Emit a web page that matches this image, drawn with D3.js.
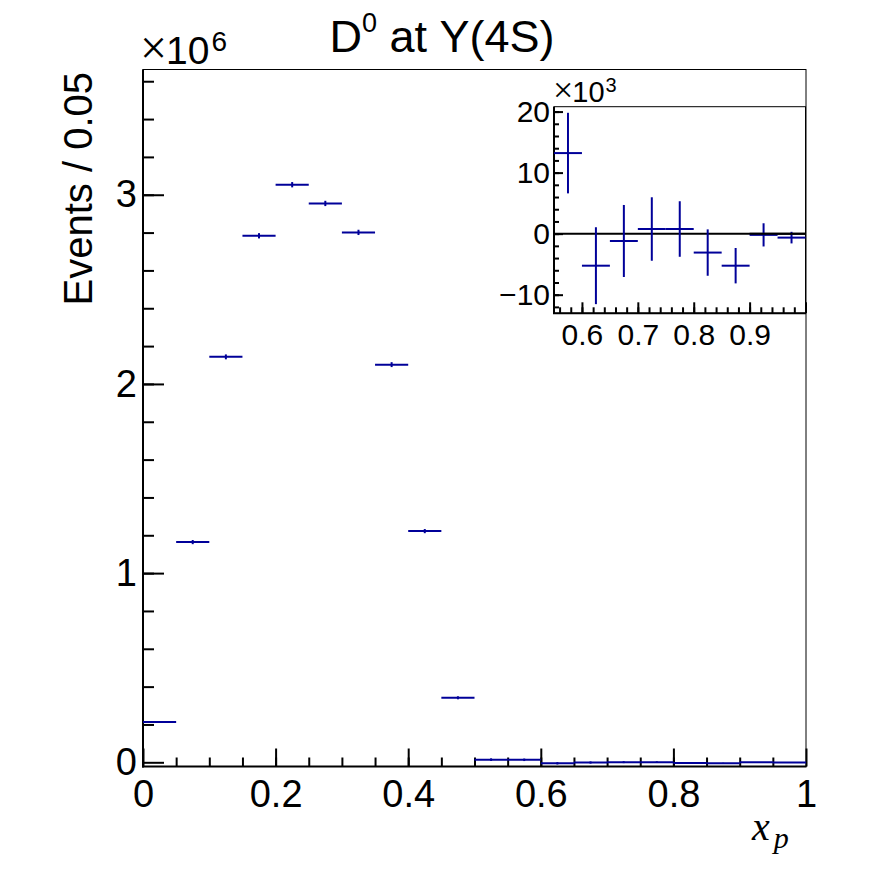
<!DOCTYPE html>
<html>
<head>
<meta charset="utf-8">
<script src="https://cdn.jsdelivr.net/npm/d3@7"></script>
<style>
  body { margin: 0; background: #fff; }
  text { font-family: "Liberation Sans", Arial, sans-serif; fill: #000; }
  .times { font-family: "Liberation Serif", "Times New Roman", serif; }
</style>
</head>
<body>
<svg id="chart" width="896" height="872"></svg>
<script>
// Bin centres of the x_p histogram (bin width 0.05)
const binCenters = [0.025, 0.075, 0.125, 0.175, 0.225, 0.275, 0.325, 0.375, 0.425, 0.475,
  0.525, 0.575, 0.625, 0.675, 0.725, 0.775, 0.825, 0.875, 0.925, 0.975];
const binWidth = 0.05;

// Events per bin
const counts = [213e3, 1164e3, 2143e3, 2783e3, 3053e3, 2954e3, 2801e3, 2102e3, 1222e3, 341e3,
  14e3, 13.2e3, -5.25e3, -1.2e3, 0.76e3, 0.76e3, -3.1e3, -5.25e3, -0.2e3, -0.65e3];
const errors = [5e3, 11e3, 13e3, 14e3, 14e3, 14e3, 14e3, 13e3, 11e3, 8e3,
  7e3, 6.6e3, 6.3e3, 5.9e3, 5.2e3, 4.55e3, 3.8e3, 2.9e3, 1.9e3, 0.95e3];

// Tick labels
const xMajor = [0, 0.2, 0.4, 0.6, 0.8, 1];
const yMajor = [0, 1e6, 2e6, 3e6];
const insetXMajor = [0.6, 0.7, 0.8, 0.9];
const insetYMajor = [-10e3, 0, 10e3, 20e3];

const blue = '#000099';
const svg = d3.select('#chart');

const bins = binCenters.map((c, i) => ({ c, v: counts[i], e: errors[i] }));

// Main pad
const x = d3.scaleLinear().domain([0, 1]).range([143, 806]);
const y = d3.scaleLinear().domain([-0.0222e6, 3.662e6]).range([766.5, 69.5]);

const noDomain = (g) => g.select('.domain').remove();

const axisStyle = (g, size) => {
  g.selectAll('line').attr('stroke', '#000').attr('stroke-width', 2);
  g.selectAll('text').style('font-size', `${size}px`).attr('fill', '#000');
};

// minor ticks first, then the major ones
svg.append('g')
  .attr('transform', 'translate(143,0)')
  .call(d3.axisLeft(y).tickValues(d3.range(0.2e6, 3.61e6, 0.2e6)).tickSize(-11).tickFormat(''))
  .call(noDomain)
  .call((g) => axisStyle(g, 38));

svg.append('g')
  .attr('transform', 'translate(143,0)')
  .call(d3.axisLeft(y).tickValues(yMajor).tickSize(-21).tickPadding(6).tickFormat((d) => d / 1e6))
  .call(noDomain)
  .call((g) => axisStyle(g, 38));

svg.append('g')
  .attr('transform', 'translate(0,766.5)')
  .call(d3.axisBottom(x).tickValues(d3.range(0.05, 1, 0.05)).tickSize(-9).tickFormat(''))
  .call(noDomain)
  .call((g) => axisStyle(g, 38));

svg.append('g')
  .attr('transform', 'translate(0,766.5)')
  .call(d3.axisBottom(x).tickValues(xMajor).tickSize(-18).tickPadding(14).tickFormat(d3.format('')))
  .call(noDomain)
  .call((g) => axisStyle(g, 38));

// frame: thin top/right, heavier axis lines
svg.append('rect')
  .attr('x', 143).attr('y', 69.5).attr('width', 663).attr('height', 697)
  .attr('fill', 'none').attr('stroke', '#000').attr('stroke-width', 1);
svg.append('line').attr('x1', 143).attr('x2', 143).attr('y1', 69.5).attr('y2', 767.5)
  .attr('stroke', '#000').attr('stroke-width', 2);
svg.append('line').attr('x1', 142).attr('x2', 806.5).attr('y1', 766.5).attr('y2', 766.5)
  .attr('stroke', '#000').attr('stroke-width', 2);

// histogram points with error bars
const main = svg.append('g').attr('stroke', blue).attr('stroke-width', 2);
main.selectAll('line.h').data(bins).join('line')
  .attr('class', 'h')
  .attr('x1', (d) => x(d.c - binWidth / 2)).attr('x2', (d) => x(d.c + binWidth / 2))
  .attr('y1', (d) => y(d.v)).attr('y2', (d) => y(d.v));
main.selectAll('line.v').data(bins).join('line')
  .attr('class', 'v')
  .attr('x1', (d) => x(d.c)).attr('x2', (d) => x(d.c))
  .attr('y1', (d) => y(d.v - d.e)).attr('y2', (d) => y(d.v + d.e));

// titles
const title = svg.append('text').attr('x', 442).attr('y', 52)
  .attr('text-anchor', 'middle').style('font-size', '45px');
title.append('tspan').text('D');
title.append('tspan').attr('dy', -20).style('font-size', '27px').text('0');
title.append('tspan').attr('dy', 20).text(' at Υ(4S)');

const expo = svg.append('text').attr('x', 140).attr('y', 64).style('font-size', '39px');
expo.append('tspan').attr('class', 'times').style('font-size', '48px').text('×');
expo.append('tspan').attr('dx', -1).text('10');
expo.append('tspan').attr('dx', 2).attr('dy', -13).style('font-size', '28px').text('6');

svg.append('text')
  .attr('transform', 'translate(92,72) rotate(-90)')
  .attr('text-anchor', 'end')
  .style('font-size', '40px')
  .text('Events / 0.05');

const xt = svg.append('text').attr('x', 752).attr('y', 840)
  .attr('class', 'times')
  .style('font-style', 'italic')
  .style('font-size', '40px');
xt.append('tspan').text('x');
xt.append('tspan').attr('dx', 4).attr('dy', 8).style('font-size', '30px').text('p');

// Inset pad: zoom on x_p > 0.55
const ix = d3.scaleLinear().domain([0.55, 1.0]).range([554, 805.5]);
const iy = d3.scaleLinear().domain([-13.05e3, 20.8e3]).range([313.3, 106.7]);

svg.append('rect')
  .attr('x', 554).attr('y', 106.7).attr('width', 251.5).attr('height', 206.6)
  .attr('fill', '#fff').attr('stroke', '#000').attr('stroke-width', 1);

const inset = svg.append('g');

inset.append('g')
  .attr('transform', 'translate(554,0)')
  .call(d3.axisLeft(iy).tickValues(d3.range(-12e3, 20.1e3, 2e3)).tickSize(-5).tickFormat(''))
  .call(noDomain)
  .call((g) => axisStyle(g, 30));
inset.append('g')
  .attr('transform', 'translate(554,0)')
  .call(d3.axisLeft(iy).tickValues(insetYMajor).tickSize(-9).tickPadding(4)
    .tickFormat((d) => (d < 0 ? '\u2212' : '') + Math.abs(d / 1e3)))
  .call(noDomain)
  .call((g) => axisStyle(g, 30));

inset.append('g')
  .attr('transform', 'translate(0,313.3)')
  .call(d3.axisBottom(ix).tickValues(d3.range(0.56, 1.0, 0.02)).tickSize(-6).tickFormat(''))
  .call(noDomain)
  .call((g) => axisStyle(g, 30));
inset.append('g')
  .attr('transform', 'translate(0,313.3)')
  .call(d3.axisBottom(ix).tickValues(insetXMajor.concat([1.0])).tickSize(-11).tickPadding(10)
    .tickFormat((d) => (d < 1 ? d3.format('.1f')(d) : '')))
  .call(noDomain)
  .call((g) => axisStyle(g, 30));

inset.append('line').attr('x1', 554).attr('x2', 554).attr('y1', 106.7).attr('y2', 314)
  .attr('stroke', '#000').attr('stroke-width', 2);
inset.append('line').attr('x1', 553).attr('x2', 806).attr('y1', 313.3).attr('y2', 313.3)
  .attr('stroke', '#000').attr('stroke-width', 2);

// zero line
inset.append('line').attr('x1', ix(0.55)).attr('x2', ix(1.0)).attr('y1', iy(0)).attr('y2', iy(0))
  .attr('stroke', '#000').attr('stroke-width', 2);

const insetBins = bins.filter((d) => d.c > 0.55);
const ip = inset.append('g').attr('stroke', blue).attr('stroke-width', 2);
ip.selectAll('line.h').data(insetBins).join('line')
  .attr('class', 'h')
  .attr('x1', (d) => ix(d.c - binWidth / 2)).attr('x2', (d) => ix(d.c + binWidth / 2))
  .attr('y1', (d) => iy(d.v)).attr('y2', (d) => iy(d.v));
ip.selectAll('line.v').data(insetBins).join('line')
  .attr('class', 'v')
  .attr('x1', (d) => ix(d.c)).attr('x2', (d) => ix(d.c))
  .attr('y1', (d) => iy(d.v - d.e)).attr('y2', (d) => iy(d.v + d.e));

// redraw zero line over the bin that sits on it
inset.append('line').attr('x1', ix(0.9)).attr('x2', ix(1.0)).attr('y1', iy(0)).attr('y2', iy(0))
  .attr('stroke', '#000').attr('stroke-width', 2);

const iexpo = inset.append('text').attr('x', 553).attr('y', 102).style('font-size', '29px');
iexpo.append('tspan').attr('class', 'times').style('font-size', '36px').text('×');
iexpo.append('tspan').attr('dx', -1).text('10');
iexpo.append('tspan').attr('dx', 1).attr('dy', -10).style('font-size', '20px').text('3');
</script>
</body>
</html>
